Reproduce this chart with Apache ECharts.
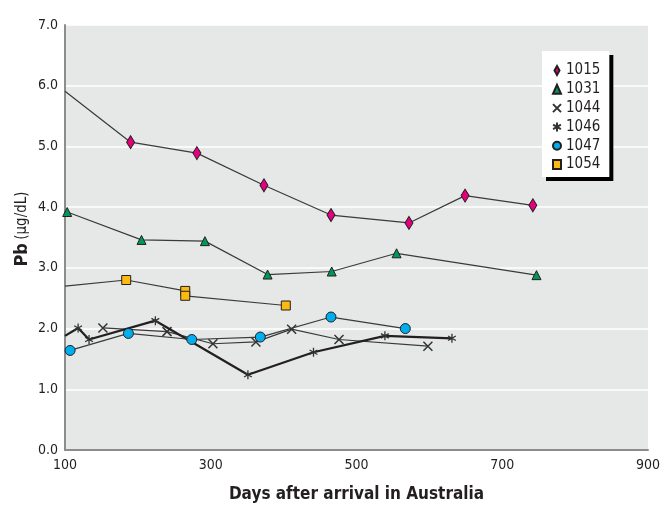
<!DOCTYPE html>
<html>
<head>
<meta charset="utf-8">
<script src="https://cdn.jsdelivr.net/npm/echarts@6/dist/echarts.min.js"></script>
<style>
  html, body { margin: 0; padding: 0; background: #ffffff; }
  #chart { width: 663px; height: 508px; }
</style>
</head>
<body>
<div id="chart"></div>
<script>
// Blood lead (Pb) of six subjects over days since arrival in Australia
const xTicks = [100, 300, 500, 700, 900];
const yTicks = [0, 1, 2, 3, 4, 5, 6, 7];
const subjectIds = ['1015', '1031', '1044', '1046', '1047', '1054'];

// [day, Pb µg/dL]
const pb1015 = [[190, 5.07], [281, 4.89], [373, 4.36], [465, 3.87], [572, 3.74], [649, 4.19], [742, 4.03]];
const pb1031 = [[103, 3.92], [205, 3.46], [292, 3.44], [378, 2.89], [466, 2.94], [555, 3.24], [747, 2.88]];
const pb1044 = [[152, 2.01], [240, 1.95], [303, 1.75], [362, 1.78], [411, 1.99], [476, 1.82], [598, 1.71]];
const pb1046 = [[118, 2.01], [133, 1.82], [224, 2.13], [351, 1.24], [441, 1.61], [539, 1.88], [631, 1.84]];
const pb1047 = [[107, 1.64], [187, 1.92], [274, 1.82], [368, 1.86], [465, 2.19], [567, 2.00]];
const pb1054 = [[184, 2.80], [265, 2.62], [265, 2.54], [403, 2.38]];

// value where a trace enters from before the first axis day (no marker there)
const entry1015 = 5.91;
const entry1046 = 1.88;
const entry1054 = 2.70;

const FONT = '"Liberation Sans Narrow", "DejaVu Sans Condensed", "Roboto", sans-serif';
const xMin = xTicks[0], xMax = xTicks[xTicks.length - 1];
const yMin = yTicks[0], yMax = yTicks[yTicks.length - 1];

const diamondPath = 'path://M2.5,0L5,4.5L2.5,9L0,4.5Z';
const crossPath = 'path://M0,0L10,10M10,0L0,10';
const starPath = 'path://M5,0L5,10M0.67,2.5L9.33,7.5M0.67,7.5L9.33,2.5';

function withEntry(entry, pts) {
  const data = pts.map(p => [p[0], p[1]]);
  if (entry !== null) data.unshift({ value: [xMin, entry], symbol: 'none' });
  return data;
}

function lineSeries(name, data, symbol, size, fill, border, borderWidth, lineWidth, lineColor, z) {
  return {
    name: name,
    type: 'line',
    data: data,
    symbol: symbol,
    symbolSize: size,
    symbolKeepAspect: true,
    clip: true,
    z: z,
    itemStyle: { color: fill, borderColor: border, borderWidth: borderWidth },
    lineStyle: { color: lineColor, width: lineWidth },
    emphasis: { disabled: true }
  };
}

const chart = echarts.init(document.getElementById('chart'), null, { renderer: 'canvas' });

chart.setOption({
  animation: false,
  backgroundColor: '#ffffff',
  textStyle: { fontFamily: FONT },
  grid: {
    left: 65, right: 15, top: 25, bottom: 55,
    show: true, backgroundColor: '#e6e7e7', borderWidth: 0
  },
  xAxis: {
    type: 'value',
    min: xMin, max: xMax, interval: 200,
    name: 'Days after arrival in Australia',
    nameLocation: 'middle',
    nameGap: 36,
    nameTextStyle: { fontFamily: FONT, fontSize: 17, fontWeight: 'bold', color: '#231f20' },
    axisLine: { show: true, lineStyle: { color: '#8c8c8c', width: 2 } },
    axisTick: { show: false },
    splitLine: { show: false },
    axisLabel: { fontFamily: FONT, fontSize: 14, color: '#231f20', margin: 8 }
  },
  yAxis: {
    type: 'value',
    min: yMin, max: yMax, interval: 1,
    axisLine: { show: true, lineStyle: { color: '#8c8c8c', width: 2 } },
    axisTick: { show: false },
    splitLine: { show: true, lineStyle: { color: '#ffffff', width: 1.5 } },
    axisLabel: {
      fontFamily: FONT, fontSize: 14, color: '#231f20', margin: 7,
      formatter: v => v.toFixed(1)
    }
  },
  legend: {
    orient: 'vertical',
    left: 542, top: 51,
    padding: [12, 9, 5, 10],
    itemWidth: 8, itemHeight: 9, itemGap: 3.8,
    backgroundColor: '#ffffff',
    shadowColor: '#000000', shadowBlur: 0, shadowOffsetX: 4, shadowOffsetY: 4,
    textStyle: { fontFamily: FONT, fontSize: 15, color: '#231f20', lineHeight: 15 },
    data: [
      { name: subjectIds[0], icon: diamondPath },
      { name: subjectIds[1], icon: 'triangle' },
      { name: subjectIds[2], icon: crossPath },
      { name: subjectIds[3], icon: starPath },
      { name: subjectIds[4], icon: 'circle' },
      { name: subjectIds[5], icon: 'rect' }
    ]
  },
  graphic: [{
    type: 'text',
    rotation: Math.PI / 2,
    x: 22, y: 229,
    style: {
      text: '{b|Pb} {n|(μg/dL)}',
      align: 'center', verticalAlign: 'middle',
      rich: {
        b: { fontFamily: FONT, fontSize: 18, fontWeight: 'bold', fill: '#231f20' },
        n: { fontFamily: FONT, fontSize: 15, fill: '#231f20' }
      }
    }
  }],
  series: [
    lineSeries(subjectIds[0], withEntry(entry1015, pb1015), 'diamond', [8, 13], '#e6007e', '#231f20', 1, 1.2, '#3a3a3a', 3),
    lineSeries(subjectIds[1], withEntry(null, pb1031), 'triangle', [9, 9], '#00975a', '#231f20', 1, 1.2, '#3a3a3a', 3),
    lineSeries(subjectIds[2], withEntry(null, pb1044), crossPath, 9, '#333333', '#333333', 1.5, 1.2, '#3a3a3a', 3),
    lineSeries(subjectIds[3], withEntry(entry1046, pb1046), starPath, 9, '#333333', '#333333', 1.3, 2.2, '#231f20', 4),
    lineSeries(subjectIds[4], withEntry(null, pb1047), 'circle', 10, '#00aeef', '#231f20', 1, 1.2, '#3a3a3a', 5),
    lineSeries(subjectIds[5], withEntry(entry1054, pb1054), 'rect', 9, '#fdb913', '#231f20', 1, 1.2, '#3a3a3a', 3)
  ]
});
</script>
</body>
</html>
